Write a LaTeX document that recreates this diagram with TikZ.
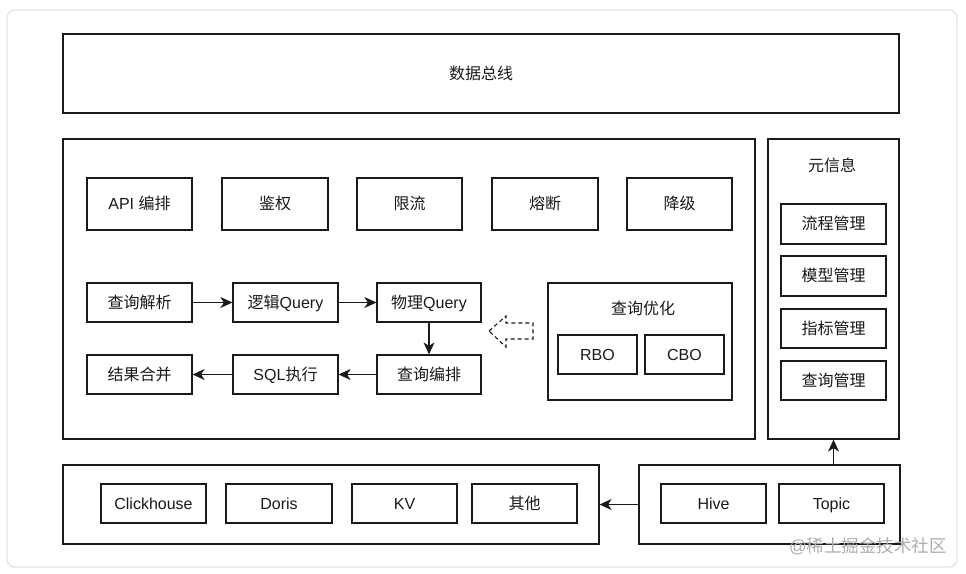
\documentclass[tikz,border=0pt]{standalone}
\usepackage{fontspec}
\setmainfont{Liberation Sans}
\newfontfamily\cjk{Noto Sans CJK SC}
\usetikzlibrary{arrows.meta}
\definecolor{ink}{HTML}{1A1A1A}
\definecolor{frame}{HTML}{E4E4E4}
\definecolor{wm}{HTML}{ADADAD}
\begin{document}
\begin{tikzpicture}[x=1pt,y=-1pt,
  box/.style={draw=ink, line width=1.2pt, inner sep=0pt, align=center, text=ink, text height=13pt, text depth=2pt, font=\fontsize{16}{19}\selectfont},
  sm/.style={box, minimum width=105pt, minimum height=39pt},
  lbl/.style={inner sep=0pt, text=ink, text height=13pt, text depth=2pt, font=\fontsize{16}{19}\selectfont},
  arr/.style={draw=ink, line width=1.1pt, -{Stealth[length=12pt,width=11pt,inset=3.5pt]}}]
\useasboundingbox (0,0) rectangle (966,573);
\fill[white] (0,0) rectangle (966,573);
\draw[frame, line width=1.2pt, rounded corners=8pt] (7,10) rectangle (957,567);

% data bus
\node[box, minimum width=836pt, minimum height=79pt] (bus) at (481,73.5) {\cjk 数据总线};

% main
\node[box, minimum width=692pt, minimum height=300pt] (main) at (409,289) {};
\node[box, minimum width=131pt, minimum height=300pt] (meta) at (833.5,289) {};

% top row
\node[sm, minimum height=52pt] (api) at (139.5,204) {API {\cjk 编排}};
\node[sm, minimum height=52pt, minimum width=106pt] (auth) at (275,204) {\cjk 鉴权};
\node[sm, minimum height=52pt] (limit) at (409.5,204) {\cjk 限流};
\node[sm, minimum height=52pt, minimum width=106pt] (fuse) at (545,204) {\cjk 熔断};
\node[sm, minimum height=52pt] (degrade) at (679.5,204) {\cjk 降级};

% flow
\node[sm] (parse) at (139.5,302.5) {\cjk 查询解析};
\node[sm] (logic) at (285.5,302.5) {{\cjk 逻辑}Query};
\node[sm, minimum width=104pt] (phys) at (429,302.5) {{\cjk 物理}Query};
\node[sm] (merge) at (139.5,374.5) {\cjk 结果合并};
\node[sm] (sql) at (285.5,374.5) {SQL{\cjk 执行}};
\node[sm, minimum width=104pt] (orch) at (429,374.5) {\cjk 查询编排};

\draw[arr] (parse) -- (logic);
\draw[arr] (logic) -- (phys);
\draw[arr] (phys) -- (orch);
\draw[arr] (orch) -- (sql);
\draw[arr] (sql) -- (merge);

% optimizer
\node[box, minimum width=184pt, minimum height=117pt] (opt) at (640,341.5) {};
\node[lbl] (optt) at (643,309) {\cjk 查询优化};
\node[sm, minimum width=79pt] (rbo) at (597.5,354.5) {RBO};
\node[sm, minimum width=79pt] (cbo) at (684.5,354.5) {CBO};

% dashed hollow arrow
\draw[ink, line width=1.1pt, dash pattern=on 4pt off 3pt]
  (489,331) -- (506,316) -- (506,323) -- (533,323) -- (533,339) -- (506,339) -- (506,347) -- cycle;

% meta
\node[lbl] (metat) at (832,166) {\cjk 元信息};
\node[sm, minimum height=40pt] (m1) at (833.5,224) {\cjk 流程管理};
\node[sm, minimum height=40pt] (m2) at (833.5,276) {\cjk 模型管理};
\node[sm] (m3) at (833.5,328.5) {\cjk 指标管理};
\node[sm] (m4) at (833.5,380.5) {\cjk 查询管理};

% storage
\node[box, minimum width=536pt, minimum height=79pt] (store) at (331,504.5) {};
\node[sm] (ch) at (153.5,503.5) {Clickhouse};
\node[sm, minimum width=106pt] (doris) at (279,503.5) {Doris};
\node[sm] (kv) at (404.5,503.5) {KV};
\node[sm] (other) at (524.5,503.5) {\cjk 其他};

\node[box, minimum width=261pt, minimum height=79pt] (src) at (769.5,504.5) {};
\node[sm] (hive) at (713.5,503.5) {Hive};
\node[sm] (topic) at (831.5,503.5) {Topic};

\draw[arr] (src.west) -- (store.east);
\draw[arr] (meta.south |- src.north) -- (meta.south);

% watermark
\node[inner sep=0pt, text=wm, font=\fontsize{17.5}{20}\selectfont] (wmk) at (868,546) {@{\cjk 稀土掘金技术社区}};
\end{tikzpicture}
\end{document}
